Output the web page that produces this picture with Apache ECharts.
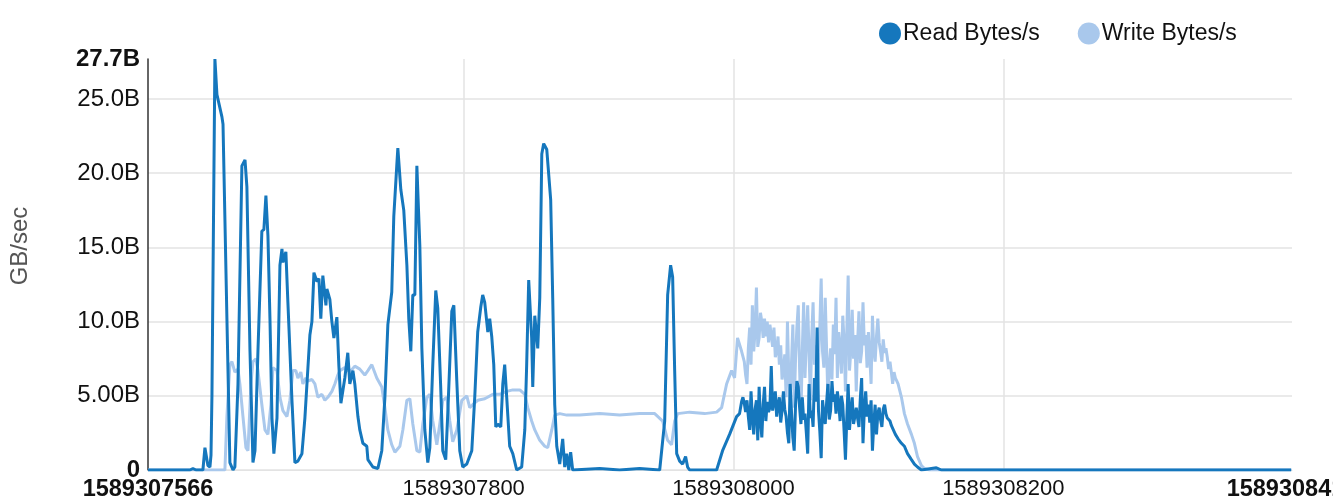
<!DOCTYPE html>
<html>
<head>
<meta charset="utf-8">
<script src="https://cdn.jsdelivr.net/npm/echarts@6/dist/echarts.min.js"></script>
<style>
  html, body { margin: 0; padding: 0; background: #fff; }
  #chart { width: 1333px; height: 503px; }
</style>
</head>
<body>
<div id="chart"></div>
<script>
// start of the time range (unix seconds)
var T0 = 1589307566;
var SPAN = 848;

// seconds from T0, and GB/s values
var readT = [0, 31.1, 33.3, 35.6, 40.7, 42.2, 44.4, 45.9, 46.7, 47.4, 49.6, 51.1, 54.8, 55.6, 58.5, 60.7, 63.0, 64.4, 66.7, 69.6,
  71.9, 73.3, 75.6, 77.8, 79.3, 81.5, 84.4, 85.9, 87.4, 88.9, 90.4, 91.9, 93.3, 95.6, 97.8, 99.3, 100.0, 102.2, 103.7, 106.7,
  108.9, 111.1, 114.1, 116.3, 120.0, 121.5, 123.0, 125.2, 126.7, 128.1, 129.6, 131.9, 132.6, 134.8, 136.3, 137.8, 140.0, 141.5, 143.0, 144.4,
  145.9, 148.1, 149.6, 151.9, 153.3, 155.6, 157.0, 159.3, 162.2, 163.0, 166.7, 170.4, 173.3, 175.6, 177.8, 180.7, 182.2, 184.4, 185.2, 187.4,
  189.6, 191.9, 193.3, 194.8, 196.3, 197.8, 199.3, 201.5, 203.0, 205.2, 207.4, 208.9, 211.1, 213.3, 214.8, 217.0, 218.5, 220.7, 222.2, 225.2,
  226.7, 228.9, 231.1, 233.3, 236.3, 240.0, 242.2, 244.4, 246.7, 248.1, 249.6, 251.9, 253.3, 254.8, 256.3, 257.8, 259.3, 261.5, 263.0, 264.4,
  265.9, 268.1, 270.4, 273.3, 277.0, 279.3, 280.7, 282.2, 284.4, 285.2, 286.7, 288.1, 288.9, 290.4, 291.9, 293.3, 295.6, 297.0, 298.5, 300.0,
  301.5, 303.0, 305.2, 307.4, 308.9, 310.4, 311.9, 313.3, 314.8, 334.8, 349.6, 364.4, 379.3, 383.0, 385.2, 387.4, 388.9, 390.4, 391.9, 394.1,
  396.3, 398.5, 400.0, 401.5, 421.5, 425.9, 431.1, 436.3, 438.5,
  440, 441, 442, 443, 444, 445, 446, 447, 448, 449, 450, 451, 452, 453, 454, 455, 456, 457, 458, 459,
  460, 461, 462, 463, 464, 465, 466, 467, 468, 469, 470, 471, 472, 473, 474, 475, 476, 477, 478, 479,
  480, 481, 482, 483, 484, 485, 486, 487, 488, 489, 490, 491, 492, 493, 494, 495, 496, 497, 498, 499,
  500, 501, 502, 503, 504, 505, 506, 507, 508, 509, 510, 511, 512, 513, 514, 515, 516, 517, 518, 519,
  520, 521, 522, 523, 524, 525, 526, 527, 528, 529, 530, 531, 532, 533, 534, 535, 536, 537, 538, 539,
  540, 541, 542, 543, 544, 545, 546, 547, 548, 549, 550, 551, 552, 553, 554, 555, 556,
  558.5, 560.7, 563.0, 565.9, 568.1, 570.4, 573.3, 584.4, 588.1, 847.4];
var readV = [0, 0, 0.1, 0, 0, 1.5, 0.3, 0.2, 1.0, 5.0, 27.7, 25.3, 23.8, 23.3, 10.2, 0.5, 0, 0.2, 5.8, 20.5,
  20.9, 19.1, 8.0, 0.5, 1.3, 8.0, 16.1, 16.2, 18.5, 15.8, 10.2, 3.5, 1.1, 3.5, 13.8, 14.9, 14.0, 14.7, 11.3, 4.7,
  0.5, 0.6, 1.1, 3.5, 9.1, 10.0, 13.3, 12.7, 12.9, 10.2, 13.1, 11.1, 12.2, 11.5, 10.0, 8.9, 10.3, 7.0, 4.5, 4.4,
  6.2, 7.9, 5.8, 6.7, 5.8, 3.6, 2.7, 1.8, 1.6, 0.7, 0.2, 0.1, 1.3, 4.9, 9.8, 12.0, 17.1, 20.5, 21.7, 18.9,
  17.5, 13.8, 10.2, 8.0, 11.8, 11.8, 20.5, 15.1, 8.2, 2.7, 0.5, 1.5, 7.1, 12.1, 10.9, 5.5, 1.3, 0.7, 3.8, 10.7,
  11.1, 6.0, 1.3, 0.2, 0.4, 1.3, 4.9, 9.3, 11.0, 11.8, 11.3, 9.3, 10.2, 9.0, 7.1, 2.9, 3.1, 2.9, 5.8, 7.1,
  4.9, 1.6, 1.1, 0, 0.2, 2.7, 7.1, 12.8, 8.9, 5.6, 10.4, 10.5, 8.2, 11.6, 21.3, 22.0, 21.6, 21.5, 18.2, 11.6,
  4.4, 1.6, 0.4, 2.1, 0.2, 1.1, 0, 1.2, 0, 0.1, 0, 0.1, 0, 3.3, 11.8, 13.8, 13.0, 6.7, 1.1, 0.6,
  0.4, 0.9, 0.2, 0, 0, 1.3, 2.4, 3.6, 3.8,
  4.6, 4.9, 4.5, 3.9, 4.7, 3.6, 2.7, 5.3, 3.5, 2.4, 4.1, 4.7, 2.0, 5.6, 3.4, 2.2, 4.4, 5.6, 3.3, 4.6,
  3.9, 4.2, 7.0, 4.0, 4.6, 5.3, 3.6, 4.4, 4.9, 3.2, 4.0, 5.3, 4.1, 3.6, 2.5, 1.8, 5.8, 3.9, 2.2, 1.3,
  4.4, 6.0, 5.6, 4.2, 3.1, 4.9, 3.4, 3.8, 2.5, 1.1, 5.8, 3.5, 4.0, 2.9, 6.2, 4.6, 9.6, 4.0, 2.6, 0.8,
  4.7, 3.8, 3.1, 4.5, 5.8, 3.4, 4.0, 6.0, 4.6, 5.1, 3.8, 5.3, 4.5, 3.3, 5.0, 4.4, 2.6, 0.7, 3.5, 5.8,
  2.7, 4.0, 4.9, 3.1, 3.6, 4.2, 3.5, 2.9, 4.8, 6.2, 1.8, 4.1, 5.3, 3.6, 4.4, 3.2, 4.7, 1.3, 3.1, 4.4,
  2.4, 3.8, 4.2, 3.4, 2.9, 4.1, 4.4, 3.8, 3.5, 3.6, 3.3, 3.0, 3.1, 2.6, 2.4, 2.3, 2.1,
  1.8, 1.6, 1.1, 0.7, 0.4, 0.2, 0, 0.15, 0, 0];

var writeT = [0, 57.0, 58.5, 60.7, 62.2, 64.4, 66.7, 68.1, 70.4, 72.6, 74.1, 76.3, 77.8, 80.0, 81.5, 84.4, 86.7, 88.9, 91.1, 92.6,
  95.6, 97.8, 100.0, 103.0, 105.2, 107.4, 109.6, 111.1, 113.3, 114.8, 117.0, 118.5, 121.5, 123.7, 125.9, 128.9, 131.1, 133.3, 136.3, 138.5,
  140.7, 142.2, 145.9, 149.6, 153.3, 157.0, 160.7, 163.0, 165.9, 169.6, 173.3, 175.6, 177.8, 180.7, 183.0, 186.7, 188.9, 191.9, 194.1, 196.3,
  199.3, 201.5, 203.7, 206.7, 208.9, 211.1, 214.1, 216.3, 218.5, 221.5, 223.7, 225.9, 228.9, 232.6, 236.3, 238.5, 240.7, 244.4, 249.6, 255.6,
  260.7, 265.9, 270.4, 275.6, 279.3, 281.5, 284.4, 286.7, 290.4, 294.1, 296.3, 299.3, 301.5, 305.2, 310.4, 320.0, 334.8, 349.6, 364.4, 375.6,
  381.5, 385.2, 388.1, 390.4, 392.6, 401.5, 412.6, 421.5, 425.2, 428.9, 432.6, 434.8, 437.0, 440.0,
  442, 443, 444, 445, 446, 447, 448, 449, 450, 451, 452, 453, 454, 455, 456, 457, 458, 459,
  460, 461, 462, 463, 464, 465, 466, 467, 468, 469, 470, 471, 472, 473, 474, 475, 476, 477, 478, 479,
  480, 481, 482, 483, 484, 485, 486, 487, 488, 489, 490, 491, 492, 493, 494, 495, 496, 497, 498, 499,
  500, 501, 502, 503, 504, 505, 506, 507, 508, 509, 510, 511, 512, 513, 514, 515, 516, 517, 518, 519,
  520, 521, 522, 523, 524, 525, 526, 527, 528, 529, 530, 531, 532, 533, 534, 535, 536, 537, 538, 539,
  540, 541, 542, 543, 544, 545, 546, 547, 548, 549, 550, 551, 552, 553, 554, 555, 556,
  558.5, 560.7, 563.0, 565.9, 568.1, 570.4, 573.3, 575.6, 579.3, 847.4];
var writeV = [0, 0, 3.6, 7.1, 7.3, 6.6, 6.8, 5.8, 3.6, 1.5, 1.3, 5.8, 7.3, 7.5, 6.7, 4.4, 2.7, 2.4, 4.4, 6.9,
  6.7, 4.9, 4.0, 3.6, 4.7, 6.7, 6.7, 6.2, 6.6, 5.8, 6.2, 6.0, 6.1, 5.8, 4.9, 5.1, 4.7, 4.9, 5.3, 5.8,
  6.4, 6.7, 6.9, 6.6, 7.0, 6.8, 6.4, 6.7, 7.1, 6.2, 5.6, 4.2, 2.7, 1.7, 1.2, 1.6, 2.7, 4.7, 4.8, 3.1,
  1.3, 1.2, 3.1, 4.9, 5.1, 3.3, 1.7, 3.1, 4.7, 4.9, 3.3, 1.9, 2.7, 4.7, 5.0, 4.2, 4.4, 4.7, 4.8, 5.1,
  5.1, 5.3, 5.4, 5.4, 5.1, 4.2, 3.3, 2.7, 2.0, 1.6, 1.5, 2.7, 3.7, 3.8, 3.7, 3.7, 3.8, 3.7, 3.8, 3.8,
  3.3, 2.0, 1.7, 3.3, 3.8, 3.9, 3.8, 3.9, 4.2, 5.8, 6.7, 6.2, 8.9, 8.0,
  7.3, 6.4, 5.8, 8.2, 9.6, 7.1, 11.1, 8.0, 9.4, 12.3, 8.3, 8.9, 10.6, 10.0, 8.9, 10.2, 9.0, 10.0,
  8.6, 9.8, 9.1, 8.3, 9.6, 7.6, 8.0, 9.0, 7.1, 8.4, 6.1, 6.7, 7.8, 4.9, 10.0, 6.3, 4.7, 7.2, 9.8, 4.2,
  7.5, 9.6, 11.1, 6.8, 3.6, 8.0, 11.3, 6.2, 8.7, 11.1, 7.9, 4.7, 9.0, 11.3, 7.1, 8.4, 4.7, 7.4, 9.7, 12.9,
  8.0, 6.9, 11.6, 8.2, 4.7, 7.0, 8.2, 6.1, 9.8, 7.8, 11.6, 6.2, 9.3, 8.2, 6.5, 10.4, 8.6, 5.3, 9.4, 13.1,
  6.7, 8.1, 10.8, 7.5, 9.1, 5.3, 8.6, 10.7, 7.2, 8.0, 11.3, 8.4, 9.1, 6.9, 9.3, 7.7, 5.8, 10.4, 8.1, 7.3,
  9.0, 10.2, 8.6, 8.0, 7.3, 8.8, 7.9, 8.2, 7.6, 6.8, 7.3, 6.6, 5.8, 6.6, 6.2, 6.0, 5.8,
  4.9, 3.8, 3.1, 2.4, 1.8, 0.9, 0.3, 0.1, 0, 0];

// x tick positions (seconds from T0)
var xGridT = [234, 434, 634];
var yTicks = [0, 5, 10, 15, 20, 25];
var yMax = 27.7;

function pairs(ts, vs) {
  return ts.map(function (t, i) { return [T0 + t, vs[i]]; });
}

var chart = echarts.init(document.getElementById('chart'), null, { renderer: 'canvas' });

var option = {
  animation: false,
  textStyle: { fontFamily: 'Liberation Sans, Arial, sans-serif' },
  legend: {
    left: 874,
    top: 17,
    icon: 'circle',
    itemWidth: 22,
    itemHeight: 22,
    itemGap: 38,
    textStyle: { fontSize: 23, color: '#111', padding: [0, 0, 0, -3] },
    data: ['Read Bytes/s', 'Write Bytes/s']
  },
  grid: {
    left: 148,
    right: 41,
    top: 59,
    bottom: 33,
    outerBoundsMode: 'none'
  },
  xAxis: {
    type: 'value',
    min: T0,
    max: T0 + SPAN,
    axisLine: { show: true, lineStyle: { color: '#e3e3e3', width: 1 } },
    axisTick: { show: false, customValues: xGridT.map(function (t) { return T0 + t; }) },
    splitLine: { show: true, lineStyle: { color: '#e3e3e3', width: 1.5 } },
    axisLabel: {
      customValues: [T0].concat(xGridT.map(function (t) { return T0 + t; }), [T0 + SPAN]),
      fontSize: 22,
      color: '#111',
      margin: 8,
      formatter: function (v) {
        if (v === T0 || v === T0 + SPAN) return '{b|' + v + '}';
        return String(v);
      },
      rich: { b: { fontSize: 23.5, fontWeight: 'bold', color: '#111' } }
    }
  },
  yAxis: {
    type: 'value',
    min: 0,
    max: yMax,
    name: 'GB/sec',
    nameLocation: 'middle',
    nameGap: 116,
    nameRotate: 90,
    nameTextStyle: { fontSize: 24, color: '#555', padding: [0, 0, 0, 37] },
    axisLine: { show: true, lineStyle: { color: '#333', width: 1.5 } },
    axisTick: { show: false, customValues: yTicks },
    splitLine: { show: true, lineStyle: { color: '#e3e3e3', width: 1.5 } },
    axisLabel: {
      customValues: yTicks.concat([yMax]),
      fontSize: 24,
      color: '#111',
      margin: 8,
      formatter: function (v) {
        if (v === 0) return '{b|0}';
        var s = v.toPrecision(3) + 'B';
        if (v === yMax) return '{b|' + s + '}';
        return s;
      },
      rich: { b: { fontSize: 24, fontWeight: 'bold', color: '#111' } }
    }
  },
  series: [
    {
      name: 'Read Bytes/s',
      type: 'line',
      showSymbol: false,
      z: 3,
      color: '#1577bd',
      lineStyle: { width: 3, color: '#1577bd' },
      data: pairs(readT, readV)
    },
    {
      name: 'Write Bytes/s',
      type: 'line',
      showSymbol: false,
      z: 2,
      color: '#a9c8ec',
      lineStyle: { width: 3, color: '#a9c8ec' },
      data: pairs(writeT, writeV)
    }
  ]
};

chart.setOption(option);
</script>
</body>
</html>
